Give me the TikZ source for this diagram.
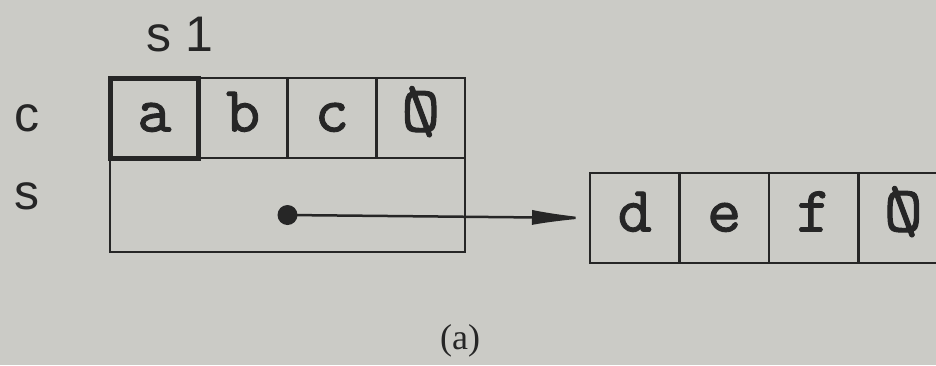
\documentclass[tikz,border=0pt]{standalone}
\usepackage{fontspec}
\setmainfont{Liberation Serif}
\setsansfont{Liberation Sans}
\newfontfamily\cellfont{lmmono10-regular.otf}[FakeBold=1.4]
\usepackage{graphicx}
\usetikzlibrary{arrows.meta, positioning}
\definecolor{pagegray}{HTML}{CBCBC6}
\definecolor{inkgray}{HTML}{262626}
\newcommand{\nulchar}{\reflectbox{\scalebox{1.15}[1]{Ø}}}

\begin{document}
\begin{tikzpicture}[
    x=1pt, y=-1pt,
    cell/.style={rectangle, draw=inkgray, line width=2.5pt, minimum width=88.75pt, minimum height=80pt, inner sep=0pt, outer sep=0pt, text=inkgray, font=\cellfont\fontsize{65}{65}\selectfont, text height=27pt, text depth=0pt},
    boldcell/.style={line width=5pt},
    farcell/.style={minimum width=89.5pt, minimum height=90pt},
    rowbox/.style={rectangle, draw=inkgray, line width=2.5pt, minimum width=355pt, minimum height=94pt, inner sep=0pt, outer sep=0pt},
    lbl/.style={inner sep=0pt, text=inkgray, font=\sffamily\fontsize{50}{50}\selectfont},
    dotnode/.style={circle, fill=inkgray, minimum size=20pt, inner sep=0pt},
    ptr/.style={-{Latex[length=58pt, width=15pt]}, line width=2.5pt, inkgray},
    caption/.style={inner sep=0pt, text=inkgray, font=\fontsize{36}{36}\selectfont}
]

% Page
\fill[pagegray] (0,0) rectangle (936,365);
\clip (0,0) rectangle (936,365);

% Struct s1
\node[cell, boldcell, anchor=north west] (ca) at (110,78) {a};
\node[cell, right=0pt of ca] (cb) {b};
\node[cell, right=0pt of cb] (cc) {c};
\node[cell, right=0pt of cc] (cz) {\nulchar};
\node[rowbox, anchor=north west] (srow) at (ca.south west) {};
\node[dotnode, yshift=-10pt] (dot) at (srow.center) {};

% Labels
\node[lbl, above=26pt of ca.north east, xshift=-19pt] (ls1) {s 1};
\node[lbl, left=70pt of ca] (lc) {c};
\node[lbl, left=70pt of srow, yshift=9pt] (ls) {s};

% String pointed to
\node[cell, farcell, anchor=north west] (cd) at (590,173) {d};
\node[cell, farcell, right=0pt of cd] (ce) {e};
\node[cell, farcell, right=0pt of ce] (cf) {f};
\node[cell, farcell, right=0pt of cf] (cn) {\nulchar};

% Pointer
\draw[ptr] (dot.center) -- (cd.west);

\node[caption] (cap) at (460,341) {(a)};

\end{tikzpicture}
\end{document}
